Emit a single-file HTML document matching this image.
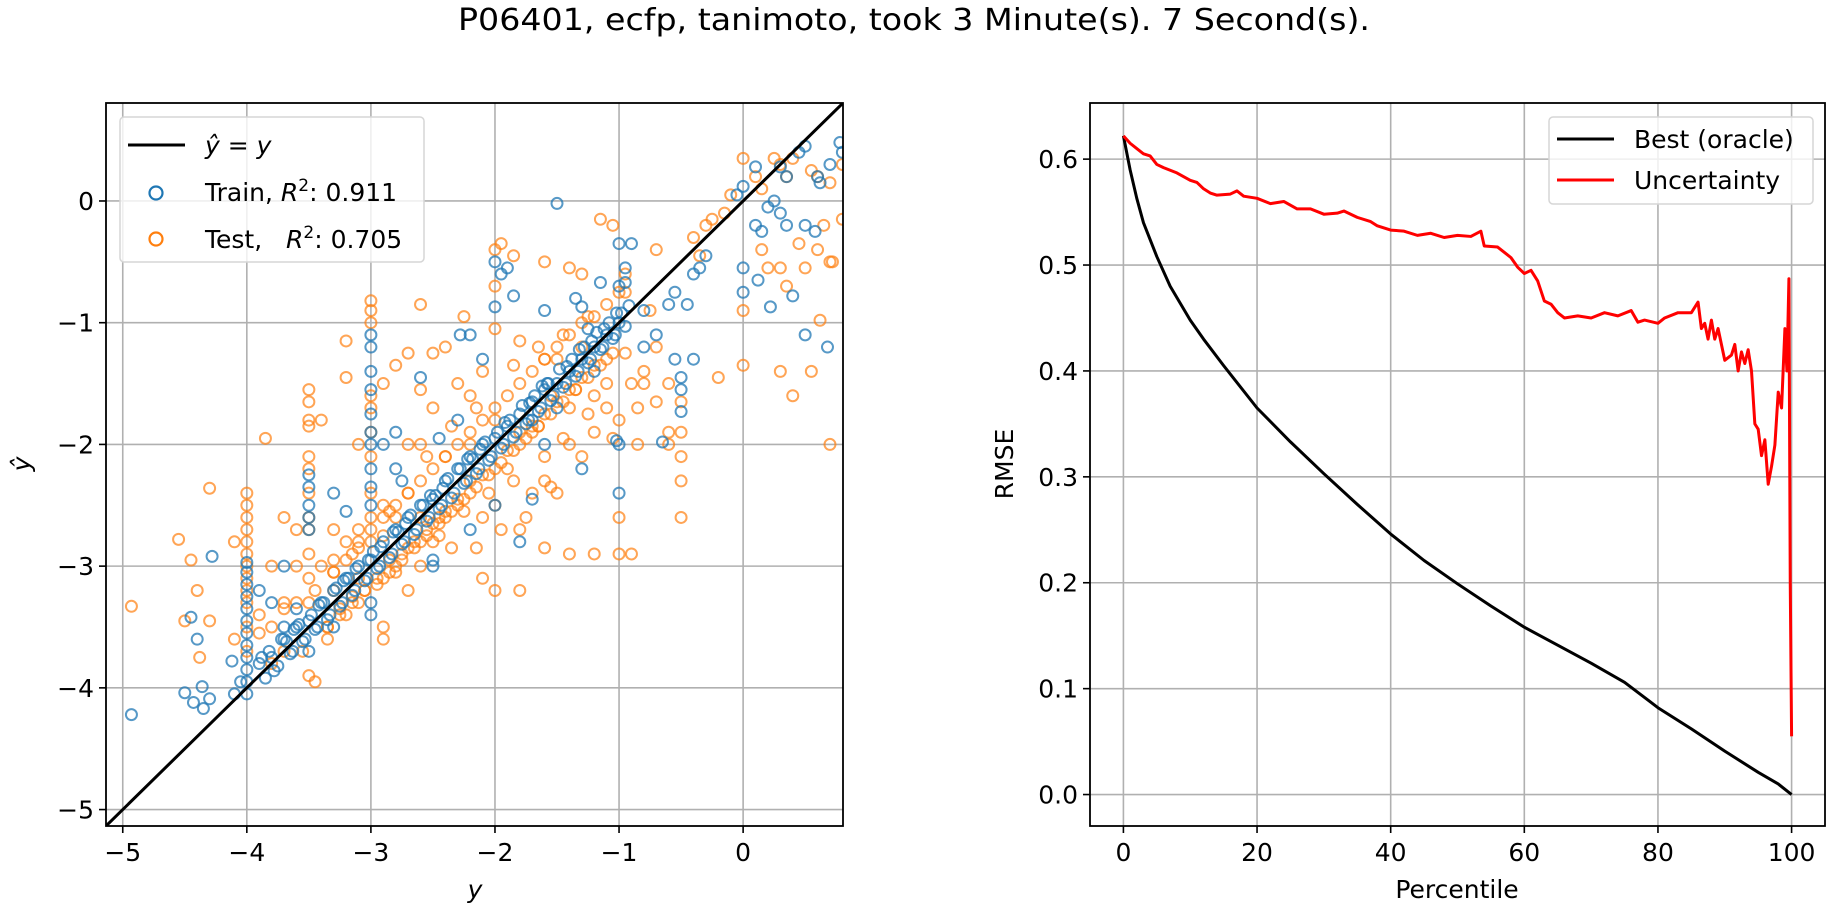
<!DOCTYPE html>
<html><head><meta charset="utf-8"><style>
html,body{margin:0;padding:0;background:#fff;}
svg{display:block;font-family:"DejaVu Sans","Liberation Sans",sans-serif;}
</style></head><body>
<svg id="fig" width="1828" height="906" viewBox="0 0 1828 906" xmlns="http://www.w3.org/2000/svg">
<text x="914" y="30" text-anchor="middle" font-size="30" textLength="912" lengthAdjust="spacingAndGlyphs">P06401, ecfp, tanimoto, took 3 Minute(s). 7 Second(s).</text>
<g id="left"></g>
<g id="right"></g>
</svg>
<script>
const trainX=[-4.93,-4.5,-4.43,-4.35,-4.36,-4.3,-4.4,-4.45,-4.28,-4.1,-4.12,-4.05,
-4,-4,-4,-4,-4,-4,-4,-4,-4,-4,-4,-4,
-3.5,-3.5,-3.5,-3.5,-3.5,-3,-3,-3,-3,-3,-3,-3,-3,-3,
-3.9,-3.8,-3.7,-3.6,-3.5,-3.4,-3.3,-3.2,-3.1,-3.0,-2.9,-2.8,-2.7,-2.6,-2.5,-2.4,-2.3,-2.2,-2.1,-2.0,-1.9,-1.8,-1.7,-1.6,-1.5,-1.4,-1.3,-1.2,-1.1,-1.0,
-3.85,-3.75,-3.65,-3.55,-3.45,-3.35,-3.25,-3.15,-3.05,-2.95,-2.85,-2.75,-2.65,-2.55,-2.45,-2.35,-2.25,-2.15,-2.05,-1.95,-1.85,-1.75,-1.65,-1.55,-1.45,-1.35,-1.25,-1.15,-1.05,-0.95,
-3.88,-3.72,-3.58,-3.42,-3.28,-3.12,-2.98,-2.82,-2.68,-2.52,-2.38,-2.22,-2.08,-1.92,-1.78,-1.62,-1.48,-1.32,-1.18,-1.02,
0.45,0.5,0.78,0.8,0.3,0.35,0.1,0,-0.05,0.1,0.15,0.25,0.2,0.3,0.35,0.5,0.58,0.6,0.7,0.62,0.12,0,0,0.22,0.4,0.5,0.68,-0.3,-0.35,-0.4,-0.55,-0.6,-0.45,-0.4,-0.5,-0.5,-0.55,-0.95,-0.95,-1.0,-0.9,-1.15,-1.3,-1.25,-1.6,-1.57,-1.35,-1.02,-1.0,-0.65,-0.5,-1.7,-1.5,-2.0,-2.0,-1.95,-1.9,-1.85,-2.1,-2.28,-2.2,-2.3,-2.45,-2.6,-2.8,-2.9,-3.3,-3.2,-3.0,-2.8,-2.75,-2.5,-2.0,-1.8,-1.7,-1.0,-1.3,-3.0,-3.0,-3.3,-3.6,-3.7,-3.5,-3.8,-3.9,-3.7,-2.5,-2.2,-1.6,-1.5,-1.2,-0.8,-0.7,-0.8,-1.0,
-3.82,-3.68,-3.62,-3.48,-3.38,-3.22,-3.18,-3.02,-2.92,-2.78,-2.72,-2.58,-2.48,-2.42,-2.28,-2.18,-2.12,-1.98,-1.88,-1.72,-1.68,-1.58,-1.42,-1.38,-1.28,-1.22,-1.12,-1.08,-0.98,-0.92,
-3.78,-3.63,-3.53,-3.43,-3.33,-3.23,-3.13,-3.03,-2.93,-2.83,-2.73,-2.63,-2.53,-2.43,-2.33,-2.23,-2.13,-2.03,-1.93,-1.83,-1.73,-1.63,-1.53,-1.43,-1.33,-1.23,-1.13,-1.03];
const trainY=[-4.22,-4.04,-4.12,-4.17,-3.99,-4.09,-3.6,-3.42,-2.92,-4.05,-3.78,-3.95,
-4.05,-3.95,-3.85,-3.75,-3.65,-3.55,-3.45,-3.35,-3.25,-3.15,-3.05,-2.97,
-2.25,-2.35,-2.5,-2.6,-2.7,-1.1,-1.2,-1.4,-1.55,-1.9,-2.0,-2.2,-2.35,-2.5,
-3.8,-3.75,-3.6,-3.5,-3.45,-3.3,-3.2,-3.1,-3.0,-2.95,-2.8,-2.7,-2.6,-2.5,-2.45,-2.3,-2.2,-2.1,-2.0,-1.95,-1.85,-1.75,-1.65,-1.55,-1.5,-1.4,-1.3,-1.2,-1.1,-1.0,
-3.92,-3.82,-3.72,-3.62,-3.52,-3.44,-3.33,-3.24,-3.12,-3.02,-2.93,-2.82,-2.74,-2.63,-2.53,-2.44,-2.32,-2.24,-2.13,-2.03,-1.94,-1.83,-1.73,-1.64,-1.53,-1.44,-1.33,-1.22,-1.13,-1.03,
-3.75,-3.6,-3.48,-3.32,-3.18,-3.02,-2.88,-2.72,-2.58,-2.42,-2.28,-2.12,-1.98,-1.82,-1.68,-1.52,-1.38,-1.22,-1.08,-0.92,
0.4,0.45,0.48,0.4,0.28,0.2,0.28,0.12,0.05,-0.2,-0.25,0.0,-0.05,-0.1,-0.2,-0.2,-0.25,0.2,0.3,0.15,-0.65,-0.55,-0.75,-0.87,-0.78,-1.1,-1.2,-0.45,-0.55,-0.6,-0.75,-0.85,-0.85,-1.3,-1.45,-1.55,-1.3,-0.55,-0.67,-0.35,-0.35,-0.67,-0.87,-1.05,-0.9,-1.5,-0.8,-1.97,-2.0,-1.98,-1.73,-1.8,-0.02,-0.5,-0.87,-0.6,-0.55,-0.78,-1.3,-1.1,-1.1,-1.8,-1.95,-1.45,-1.9,-2.0,-2.4,-2.55,-1.75,-2.2,-2.3,-2.95,-2.5,-2.8,-2.45,-2.4,-2.2,-3.3,-3.4,-3.5,-3.35,-3.5,-3.7,-3.3,-3.2,-3.0,-3.0,-2.7,-2.0,-1.7,-1.4,-1.2,-1.1,-0.9,-0.7,
-3.7,-3.62,-3.52,-3.4,-3.3,-3.12,-3.1,-2.95,-2.84,-2.72,-2.65,-2.5,-2.42,-2.36,-2.2,-2.12,-2.04,-1.9,-1.8,-1.66,-1.6,-1.5,-1.36,-1.3,-1.2,-1.15,-1.05,-1.0,-0.92,-0.86,
-3.86,-3.7,-3.6,-3.5,-3.4,-3.3,-3.2,-3.1,-3.0,-2.9,-2.8,-2.7,-2.6,-2.5,-2.4,-2.3,-2.2,-2.1,-2.0,-1.9,-1.8,-1.7,-1.6,-1.5,-1.4,-1.3,-1.2,-1.1];
const testX=[-4.93,-4.5,-4.55,-4.45,-4.4,-4.38,-4.3,-4.3,-4.1,-4.1,
-4,-4,-4,-4,-4,-4,-4,-4,-4,-4,-4,-4,
-3.85,-3.8,-3.7,-3.6,-3.7,
-3.5,-3.5,-3.5,-3.5,-3.5,-3.5,-3.5,-3.5,-3.5,-3.5,-3.5,-3.5,
-3.4,-3.55,-3.5,-3.45,-3.35,-3.35,-3.2,-3.2,-3.1,
-3,-3,-3,-3,-3,-3,-3,-3,-3,
-2.9,-2.9,-2.9,-2.8,-2.7,-2.6,-2.6,-2.6,-2.5,-2.4,-2.3,-2.2,-2.25,-2.1,-2.0,-2.0,-2.0,-1.95,-1.85,-1.8,-1.6,-1.6,-1.4,-1.3,-1.15,-1.05,-0.95,-1.3,-1.5,-0.7,-0.4,-0.35,-0.3,-0.25,-0.1,-0.15,0.0,0.1,0.15,0.25,0.3,0.35,0.4,0.55,0.6,0.7,0.8,0.8,0.6,0.7,0.5,0.35,0.2,0.0,0.15,0.3,0.45,0.62,0.55,0.4,0.3,0.0,-0.2,0.7,0.72,0.65,
-0.5,-0.5,-0.6,-0.5,-0.6,-0.7,-0.8,-0.9,-1.0,-1.05,-1.2,-1.3,-1.4,-1.6,-1.6,-1.55,-1.7,-1.8,-1.75,-1.9,-2.0,-2.1,-2.2,-2.3,-2.4,-2.5,-2.6,-2.7,-2.8,-2.9,-3.1,-3.2,-3.3,-3.4,-3.6,-3.7,-3.8,-3.9,-2.0,-2.1,-1.8,-1.4,-1.6,-1.2,-1.0,-1.0,-0.9,-0.5,-0.5,-0.6,-0.85,-1.1,-1.2,-1.4,-1.7,-1.8,-2.0,-2.2,-2.4,-2.7,-2.9,-3.1,-3.2,-3.3,-2.6,-2.45,-2.25,-2.05,-1.85,-1.65,-1.45,-1.25,-1.1,-0.95,-0.8,-0.7,-1.35,-1.55,-2.5,-2.7,-2.8,-3.0,-3.1,-2.35,-2.15,-1.95,-1.5,
-3.05,-2.95,-2.85,-2.75,-2.65,-2.55,-2.45,-3.15,-3.25,-2.9,-2.7,-2.5,-2.3,-2.1,-1.9,-1.7,-1.5,-1.3,-1.1,-3.3,-3.1,-2.8,-2.6,-2.4,-2.2,-2.0,-1.8,-1.6,-1.4,-1.2,
-3.35,-3.25,-3.15,-3.05,-2.95,-2.85,-2.75,-2.65,-2.55,-2.45,-2.35,-2.25,-2.15,-2.05,-1.95,-1.85,-1.75,-1.65,-1.55,-1.45,-1.35,-1.25,-1.15,-1.05,
-3.3,-3.2,-3.1,-3.0,-2.9,-2.8,-2.7,-2.6,-2.5,-2.4,-2.3,-2.2,-2.1,-2.0,-1.9,-1.8,-1.7,-1.6,-1.5,-1.4,-1.3,-1.2,-1.1,-1.0,
-3.9,-3.8,-3.7,-3.6,-3.45,-3.3,-3.15,-2.85,-2.55,-2.35,-2.15,-1.85,-1.65,-1.45,-1.25,-0.95,-0.85,-0.75];
const testY=[-3.33,-3.45,-2.78,-2.95,-3.2,-3.75,-3.45,-2.36,-3.6,-2.8,
-2.4,-2.5,-2.6,-2.7,-2.8,-2.9,-3.0,-3.1,-3.2,-3.3,-3.5,-3.7,
-1.95,-3.0,-2.6,-2.7,-3.3,
-1.55,-1.65,-1.8,-1.85,-2.1,-2.2,-2.4,-2.6,-2.7,-2.9,-3.1,-3.3,
-1.8,-3.7,-3.9,-3.95,-3.5,-3.6,-1.15,-1.45,-2.0,
-0.82,-0.9,-1.0,-1.6,-1.7,-1.9,-2.1,-2.4,-2.6,
-1.5,-3.5,-3.6,-1.35,-1.25,-0.85,-1.55,-2.0,-1.25,-1.2,-1.5,-1.6,-0.95,-1.4,-1.05,-0.7,-0.4,-0.35,-0.45,-1.15,-0.5,-1.3,-0.55,-0.6,-0.15,-0.2,-0.6,-1.2,-1.3,-0.4,-0.3,-0.45,-0.2,-0.15,0.05,-0.1,0.35,0.2,0.1,0.35,0.3,0.2,0.35,0.25,0.2,0.15,0.3,-0.15,-0.4,-0.5,-0.55,-0.7,-0.55,-0.9,-0.4,-0.55,-0.35,-0.98,-1.4,-1.6,-1.4,-1.35,-1.45,-2.0,-0.5,-0.2,
-2.1,-1.9,-1.9,-1.65,-1.5,-1.65,-1.5,-1.5,-1.8,-1.95,-1.9,-2.1,-2.0,-2.1,-2.3,-2.35,-2.4,-2.7,-2.6,-2.2,-2.5,-2.6,-2.3,-2.5,-2.6,-2.8,-3.0,-3.2,-3.0,-3.1,-3.3,-3.4,-3.2,-3.0,-3.0,-3.7,-3.8,-3.4,-3.2,-3.1,-3.2,-2.9,-2.85,-2.9,-2.6,-2.9,-2.9,-2.6,-2.3,-2.0,-2.0,-1.7,-1.6,-1.7,-1.9,-2.0,-1.8,-2.0,-2.1,-2.4,-2.5,-2.7,-2.8,-2.7,-2.6,-2.75,-2.55,-2.4,-2.3,-1.85,-1.95,-1.75,-1.5,-1.25,-1.4,-1.2,-1.55,-1.6,-1.7,-2.0,-2.6,-2.8,-3.1,-2.85,-2.85,-2.7,-2.4,
-3.2,-3.1,-2.95,-2.9,-2.8,-2.7,-2.6,-3.25,-3.35,-2.75,-2.85,-2.65,-2.45,-2.25,-2.05,-1.85,-1.65,-1.45,-1.3,-2.95,-2.85,-3.05,-2.8,-2.55,-2.4,-2.2,-1.9,-1.75,-1.55,-1.35,
-3.5,-3.4,-3.3,-3.2,-3.15,-3.05,-2.95,-2.85,-2.75,-2.65,-2.55,-2.45,-2.35,-2.25,-2.15,-2.05,-1.95,-1.85,-1.75,-1.65,-1.55,-1.45,-1.35,-1.25,
-3.05,-2.95,-2.8,-2.7,-2.6,-2.5,-2.4,-2.3,-2.2,-2.1,-2.0,-1.9,-1.8,-1.7,-1.6,-1.5,-1.4,-1.3,-1.2,-1.1,-1.0,-0.95,-0.85,-0.75,
-3.55,-3.5,-3.35,-3.3,-3.2,-3.05,-2.9,-2.55,-2.1,-1.85,-1.7,-1.35,-1.2,-1.1,-0.95,-0.75,-1.7,-0.9];
const lxTicks=[-5,-4,-3,-2,-1,0];
const lyTicks=[-5,-4,-3,-2,-1,0];
const pct=[0,1,2,3,5,7,10,12,15,20,25,30,35,40,45,50,55,60,65,70,75,80,85,90,95,98,100];
const oracle=[0.622,0.59,0.563,0.54,0.508,0.48,0.448,0.43,0.405,0.365,0.333,0.303,0.274,0.246,0.221,0.199,0.178,0.158,0.141,0.124,0.106,0.082,0.062,0.041,0.021,0.01,0.0];
const uPct=[0,1,2,3,4,5,6,8,10,11,12,13,14,16,17,18,20,22,24,26,28,30,32,33,35,37,38,40,42,44,46,48,50,52,53.5,54,56,57,58,59,60,61,62,63,64,65,66,68,70,72,74,76,77,78,80,81,83,85,86,86.5,87,87.5,88,88.5,89,90,91,91.5,92,92.5,93,93.5,94,94.5,95,95.5,96,96.5,97,97.5,98,98.5,99,99.3,99.6,99.8,100];
const uncert=[0.622,0.615,0.61,0.605,0.603,0.595,0.592,0.587,0.58,0.578,0.572,0.568,0.566,0.567,0.57,0.565,0.563,0.558,0.56,0.553,0.553,0.548,0.549,0.551,0.545,0.541,0.537,0.533,0.532,0.528,0.53,0.526,0.528,0.527,0.532,0.518,0.517,0.512,0.507,0.498,0.492,0.495,0.485,0.466,0.463,0.455,0.45,0.452,0.45,0.455,0.452,0.457,0.446,0.448,0.445,0.45,0.455,0.455,0.465,0.44,0.445,0.43,0.448,0.43,0.44,0.41,0.415,0.425,0.4,0.418,0.407,0.42,0.4,0.35,0.345,0.32,0.335,0.293,0.31,0.33,0.38,0.365,0.44,0.4,0.487,0.2,0.055];
const rxTicks=[0,20,40,60,80,100];
const ryTicks=[0.0,0.1,0.2,0.3,0.4,0.5,0.6];

const NS='http://www.w3.org/2000/svg';
function mk(parent,tag,attrs,text){const e=document.createElementNS(NS,tag);for(const k in attrs)e.setAttribute(k,attrs[k]);if(text!==undefined)e.textContent=text;parent.appendChild(e);return e;}
function fmtMinus(v){return (v<0?'\u2212':'')+Math.abs(v);}

// LEFT
const L={x0:106,x1:843,y0:103,y1:826,min:-5.135,max:0.805};
const lx=v=>L.x0+(v-L.min)/(L.max-L.min)*(L.x1-L.x0);
const ly=v=>L.y1-(v-L.min)/(L.max-L.min)*(L.y1-L.y0);
const gl=document.getElementById('left');
lxTicks.forEach(t=>{
  const g=mk(gl,'line',{x1:lx(t),x2:lx(t),y1:L.y0,y2:L.y1,stroke:'#b0b0b0','stroke-width':1.6});
  
  
  mk(gl,'line',{x1:lx(t),x2:lx(t),y1:L.y1,y2:L.y1+7,stroke:'#000','stroke-width':1.6});
  const tx=mk(gl,'text',{x:lx(t),y:L.y1+35,'text-anchor':'middle','font-size':25},fmtMinus(t));
  
  
});
lyTicks.forEach(t=>{
  const g=mk(gl,'line',{x1:L.x0,x2:L.x1,y1:ly(t),y2:ly(t),stroke:'#b0b0b0','stroke-width':1.6});
  
  
  mk(gl,'line',{x1:L.x0-7,x2:L.x0,y1:ly(t),y2:ly(t),stroke:'#000','stroke-width':1.6});
  const tx=mk(gl,'text',{x:L.x0-12,y:ly(t)+9,'text-anchor':'end','font-size':25},fmtMinus(t));
  
  
});
const clip=mk(gl,'clipPath',{id:'lclip'});mk(clip,'rect',{x:L.x0,y:L.y0,width:L.x1-L.x0,height:L.y1-L.y0});
const pts=mk(gl,'g',{'clip-path':'url(#lclip)'});


testX.forEach((x,i)=>{
  const c=mk(pts,'circle',{cx:lx(x),cy:ly(testY[i]),r:5.5,fill:'none',stroke:'#ff7f0e','stroke-width':2,'stroke-opacity':0.7});
  
  
});
trainX.forEach((x,i)=>{
  const c=mk(pts,'circle',{cx:lx(x),cy:ly(trainY[i]),r:5.5,fill:'none',stroke:'#1f77b4','stroke-width':2,'stroke-opacity':0.75});
  
  
});
const diag=mk(pts,'line',{x1:lx(L.min),y1:ly(L.min),x2:lx(L.max),y2:ly(L.max),stroke:'#000','stroke-width':3});


mk(gl,'rect',{x:L.x0,y:L.y0,width:L.x1-L.x0,height:L.y1-L.y0,fill:'none',stroke:'#000','stroke-width':1.8});
const xl=mk(gl,'text',{x:475,y:898,'text-anchor':'middle','font-size':25,'font-style':'italic'},'y');


const yl=mk(gl,'text',{x:30,y:464,'text-anchor':'middle','font-size':25,'font-style':'italic',transform:'rotate(-90 30 464)'},'ŷ');


const leg=mk(gl,'g',{});


mk(leg,'rect',{x:120,y:117,width:304,height:145,rx:4,fill:'#fff','fill-opacity':0.8,stroke:'#d6d6d6','stroke-width':1.5});
mk(leg,'line',{x1:128,x2:185,y1:145,y2:145,stroke:'#000','stroke-width':3});
mk(leg,'text',{x:205,y:154,'font-size':25,'font-style':'italic'},'ŷ = y');
mk(leg,'circle',{cx:156,cy:193,r:6.5,fill:'none',stroke:'#1f77b4','stroke-width':2.2});
const t1=mk(leg,'text',{x:205,y:201,'font-size':25});t1.innerHTML='Train, <tspan font-style="italic">R</tspan><tspan dy="-10" font-size="17">2</tspan><tspan dy="10">: 0.911</tspan>';
mk(leg,'circle',{cx:156,cy:239,r:6.5,fill:'none',stroke:'#ff7f0e','stroke-width':2.2});
const t2=mk(leg,'text',{x:205,y:248,'font-size':25});t2.innerHTML='Test, <tspan font-style="italic" x="286">R</tspan><tspan dy="-10" font-size="17">2</tspan><tspan dy="10">: 0.705</tspan>';

// RIGHT
const R={x0:1090,x1:1825,y0:103,y1:826,xmin:-5,xmax:105,ymin:-0.0297,ymax:0.653};
const rx=v=>R.x0+(v-R.xmin)/(R.xmax-R.xmin)*(R.x1-R.x0);
const ry=v=>R.y1-(v-R.ymin)/(R.ymax-R.ymin)*(R.y1-R.y0);
const gr=document.getElementById('right');
rxTicks.forEach(t=>{
  const g=mk(gr,'line',{x1:rx(t),x2:rx(t),y1:R.y0,y2:R.y1,stroke:'#b0b0b0','stroke-width':1.6});
  
  
  mk(gr,'line',{x1:rx(t),x2:rx(t),y1:R.y1,y2:R.y1+7,stroke:'#000','stroke-width':1.6});
  const tx=mk(gr,'text',{x:rx(t),y:R.y1+35,'text-anchor':'middle','font-size':25},String(t));
  
  
});
ryTicks.forEach(t=>{
  const g=mk(gr,'line',{x1:R.x0,x2:R.x1,y1:ry(t),y2:ry(t),stroke:'#b0b0b0','stroke-width':1.6});
  
  
  mk(gr,'line',{x1:R.x0-7,x2:R.x0,y1:ry(t),y2:ry(t),stroke:'#000','stroke-width':1.6});
  const tx=mk(gr,'text',{x:R.x0-12,y:ry(t)+9,'text-anchor':'end','font-size':25},t.toFixed(1));
  
  
});
const op=mk(gr,'polyline',{points:pct.map((p,i)=>rx(p)+','+ry(oracle[i])).join(' '),fill:'none',stroke:'#000','stroke-width':3,'stroke-linejoin':'round'});


const up=mk(gr,'polyline',{points:uPct.map((p,i)=>rx(p)+','+ry(uncert[i])).join(' '),fill:'none',stroke:'#ff0000','stroke-width':3,'stroke-linejoin':'round'});


mk(gr,'rect',{x:R.x0,y:R.y0,width:R.x1-R.x0,height:R.y1-R.y0,fill:'none',stroke:'#000','stroke-width':1.8});
const rxl=mk(gr,'text',{x:1457,y:898,'text-anchor':'middle','font-size':25},'Percentile');


const ryl=mk(gr,'text',{x:1013,y:464,'text-anchor':'middle','font-size':25,transform:'rotate(-90 1013 464)'},'RMSE');


const rleg=mk(gr,'g',{});


mk(rleg,'rect',{x:1549,y:117,width:264,height:87,rx:4,fill:'#fff','fill-opacity':0.8,stroke:'#d6d6d6','stroke-width':1.5});
mk(rleg,'line',{x1:1557,x2:1614,y1:139,y2:139,stroke:'#000','stroke-width':3});
mk(rleg,'text',{x:1634,y:148,'font-size':25},'Best (oracle)');
mk(rleg,'line',{x1:1557,x2:1614,y1:180,y2:180,stroke:'#ff0000','stroke-width':3});
mk(rleg,'text',{x:1634,y:189,'font-size':25},'Uncertainty');
</script>
</body></html>
